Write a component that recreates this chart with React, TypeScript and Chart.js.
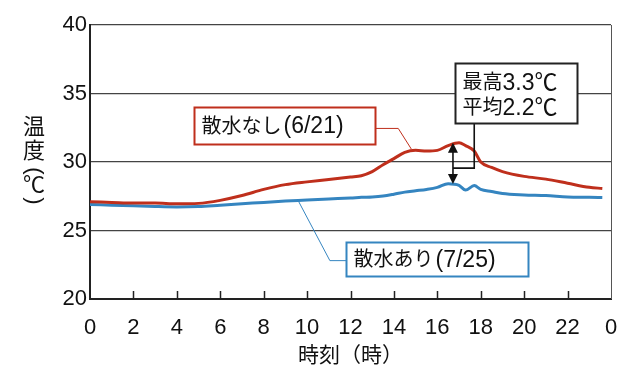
import React, { useEffect, useRef } from "react";
import { Chart, registerables } from "chart.js";

Chart.register(...registerables);

// ---- data ----
const hours = [0, 1, 2, 3, 4, 5, 6, 7, 8, 9, 10, 11, 12, 12.5, 13, 13.5, 14, 14.5, 15, 15.5, 16, 16.5, 17, 17.3, 17.7, 18, 18.5, 19, 20, 21, 22, 23, 23.6];
const noSprinkle = [27.1, 27.05, 27.0, 27.0, 26.95, 26.98, 27.2, 27.55, 28.0, 28.35, 28.55, 28.72, 28.9, 29.0, 29.3, 29.8, 30.25, 30.7, 30.85, 30.8, 30.85, 31.2, 31.4, 31.2, 30.8, 30.0, 29.6, 29.3, 28.95, 28.75, 28.45, 28.15, 28.07];
const withSprinkle = [26.9, 26.85, 26.8, 26.75, 26.72, 26.75, 26.85, 26.95, 27.05, 27.15, 27.22, 27.3, 27.37, 27.42, 27.45, 27.52, 27.65, 27.8, 27.9, 28.0, 28.15, 28.42, 28.3, 27.95, 28.28, 28.0, 27.85, 27.7, 27.6, 27.55, 27.45, 27.42, 27.4];
const seriesNames = ["散水なし", "散水あり"];
const seriesDates = ["(6/21)", "(7/25)"];
const xTicks = [0, 2, 4, 6, 8, 10, 12, 14, 16, 18, 20, 22, 24];
const noteLines = [["最高", "3.3℃"], ["平均", "2.2℃"]];
const yTitle = ["温", "度", "(", "℃", ")"];
const xTitle = "時刻（時）";

const RED = "#bf2f1c";
const BLUE = "#3585c0";
const FONT = "'Liberation Sans', 'Noto Sans CJK JP', sans-serif";

const annotPlugin = {
  id: "annot",
  afterDatasetsDraw(chart: any) {
    const { ctx, chartArea } = chart;
    const xs = chart.scales.x;
    const ys = chart.scales.y;
    const X = (v: number) => xs.getPixelForValue(v);
    const Y = (v: number) => ys.getPixelForValue(v);
    ctx.save();

    // right border
    ctx.strokeStyle = "#555";
    ctx.lineWidth = 1;
    ctx.beginPath();
    ctx.moveTo(chartArea.right + 0.5, chartArea.top);
    ctx.lineTo(chartArea.right + 0.5, chartArea.bottom);
    ctx.stroke();

    // inward tick marks on x axis
    ctx.strokeStyle = "#222";
    ctx.lineWidth = 1.5;
    xTicks.forEach((t) => {
      if (t === 0 || t === 24) return;
      const px = Math.round(X(t)) + 0.5;
      ctx.beginPath();
      ctx.moveTo(px, chartArea.bottom);
      ctx.lineTo(px, chartArea.bottom - 8);
      ctx.stroke();
    });

    // leader lines
    ctx.lineWidth = 1;
    ctx.strokeStyle = RED;
    ctx.beginPath();
    ctx.moveTo(X(13.13), Y(32.45));
    ctx.lineTo(X(14.2), Y(32.45));
    ctx.lineTo(X(14.8), Y(30.95));
    ctx.stroke();

    ctx.strokeStyle = BLUE;
    ctx.beginPath();
    ctx.moveTo(X(11.8), Y(22.8));
    ctx.lineTo(X(11.05), Y(22.8));
    ctx.lineTo(X(9.6), Y(27.15));
    ctx.stroke();

    // note leader
    ctx.strokeStyle = "#111";
    ctx.lineWidth = 1.6;
    ctx.beginPath();
    ctx.moveTo(X(17.7), Y(32.85));
    ctx.lineTo(X(17.7), Y(29.55));
    ctx.lineTo(X(16.72), Y(29.55));
    ctx.stroke();

    // double arrow
    const ax = X(16.72);
    const yTop = Y(31.4);
    const yBot = Y(28.4);
    ctx.beginPath();
    ctx.moveTo(ax, yTop + 8);
    ctx.lineTo(ax, yBot - 8);
    ctx.stroke();
    ctx.fillStyle = "#111";
    ctx.beginPath();
    ctx.moveTo(ax, yTop);
    ctx.lineTo(ax - 5, yTop + 10);
    ctx.lineTo(ax + 5, yTop + 10);
    ctx.closePath();
    ctx.fill();
    ctx.beginPath();
    ctx.moveTo(ax, yBot);
    ctx.lineTo(ax - 5, yBot - 10);
    ctx.lineTo(ax + 5, yBot - 10);
    ctx.closePath();
    ctx.fill();

    // boxes
    const box = (x0: number, y0: number, x1: number, y1: number, color: string, lw: number) => {
      const l = Math.round(X(x0)) + 0.5;
      const r = Math.round(X(x1)) + 0.5;
      const t = Math.round(Y(y0)) + 0.5;
      const b = Math.round(Y(y1)) + 0.5;
      ctx.fillStyle = "#fff";
      ctx.fillRect(l, t, r - l, b - t);
      ctx.strokeStyle = color;
      ctx.lineWidth = lw;
      ctx.strokeRect(l, t, r - l, b - t);
      return { l, r, t, b };
    };

    const segs = (parts: [string, number, number][], x: number, y: number) => {
      let cx = x;
      parts.forEach(([s, size, gap]) => {
        ctx.font = `${size}px ${FONT}`;
        cx += gap;
        ctx.fillText(s, cx, y);
        cx += ctx.measureText(s).width;
      });
    };

    ctx.textBaseline = "middle";
    ctx.textAlign = "left";

    const b1 = box(4.8, 34.0, 13.13, 31.3, RED, 2);
    ctx.fillStyle = "#111";
    segs([[seriesNames[0], 20, 0], [seriesDates[0], 23, 2]], b1.l + 7, (b1.t + b1.b) / 2 + 1);

    const b2 = box(11.8, 24.15, 20.18, 21.7, BLUE, 2);
    ctx.fillStyle = "#111";
    segs([[seriesNames[1], 20, 0], [seriesDates[1], 23, 2]], b2.l + 7, (b2.t + b2.b) / 2 + 1);

    const b3 = box(16.82, 37.23, 22.43, 32.85, "#222", 2);
    ctx.fillStyle = "#111";
    segs([[noteLines[0][0], 20, 0], [noteLines[0][1], 23, 0]], b3.l + 7, b3.t + 20);
    segs([[noteLines[1][0], 20, 0], [noteLines[1][1], 23, 0]], b3.l + 7, b3.t + 45);

    // y title (vertical)
    ctx.fillStyle = "#111";
    ctx.font = `22px ${FONT}`;
    ctx.textAlign = "center";
    const cx = 34;
    ctx.fillText(yTitle[0], cx, 128);
    ctx.fillText(yTitle[1], cx, 152);
    const rot = (s: string, y: number) => {
      ctx.save();
      ctx.translate(cx, y);
      ctx.rotate(Math.PI / 2);
      ctx.fillText(s, 0, 0);
      ctx.restore();
    };
    rot(yTitle[2], 171);
    ctx.fillText(yTitle[3], cx, 186);
    rot(yTitle[4], 201);

    // x title
    ctx.font = `21px ${FONT}`;
    ctx.fillText(xTitle, (chartArea.left + chartArea.right) / 2, 356);

    ctx.restore();
  },
};

export default function App() {
  const ref = useRef<HTMLCanvasElement>(null);
  useEffect(() => {
    if (!ref.current) return;
    const chart = new Chart(ref.current, {
      type: "line",
      data: {
        datasets: [
          {
            label: seriesNames[0],
            data: hours.map((h, i) => ({ x: h, y: noSprinkle[i] })),
            borderColor: RED,
            borderWidth: 3,
            pointRadius: 0,
            cubicInterpolationMode: "monotone",
            fill: false,
          },
          {
            label: seriesNames[1],
            data: hours.map((h, i) => ({ x: h, y: withSprinkle[i] })),
            borderColor: BLUE,
            borderWidth: 3,
            pointRadius: 0,
            cubicInterpolationMode: "monotone",
            fill: false,
          },
        ],
      },
      options: {
        animation: false,
        responsive: false,
        maintainAspectRatio: false,
        layout: { padding: { top: 25, right: 29, left: 0, bottom: 0 } },
        plugins: { legend: { display: false }, tooltip: { enabled: false }, title: { display: false } },
        scales: {
          x: {
            type: "linear",
            min: 0,
            max: 24,
            afterBuildTicks: (s: any) => {
              s.ticks = xTicks.map((v) => ({ value: v }));
            },
            afterFit: (s: any) => {
              s.height = 84;
            },
            ticks: {
              autoSkip: false,
              maxRotation: 0,
              padding: 8,
              color: "#111",
              font: { size: 22, family: FONT },
              callback: (v: any) => String(Number(v) % 24),
            },
            grid: { display: false },
            border: { display: true, color: "#222", width: 2 },
          },
          y: {
            min: 20,
            max: 40,
            afterFit: (s: any) => {
              s.width = 90;
            },
            ticks: {
              stepSize: 5,
              padding: 3,
              color: "#111",
              font: { size: 22, family: FONT },
            },
            grid: { color: "#444", lineWidth: 1.2, drawTicks: false },
            border: { display: true, color: "#222", width: 2 },
          },
        },
      },
      plugins: [annotPlugin],
    } as any);
    return () => chart.destroy();
  }, []);
  return (
    <div style={{ position: "fixed", left: 0, top: 0, width: 640, height: 383, background: "#fff" }}>
      <canvas ref={ref} width={640} height={383} style={{ width: 640, height: 383, display: "block" }} />
    </div>
  );
}
